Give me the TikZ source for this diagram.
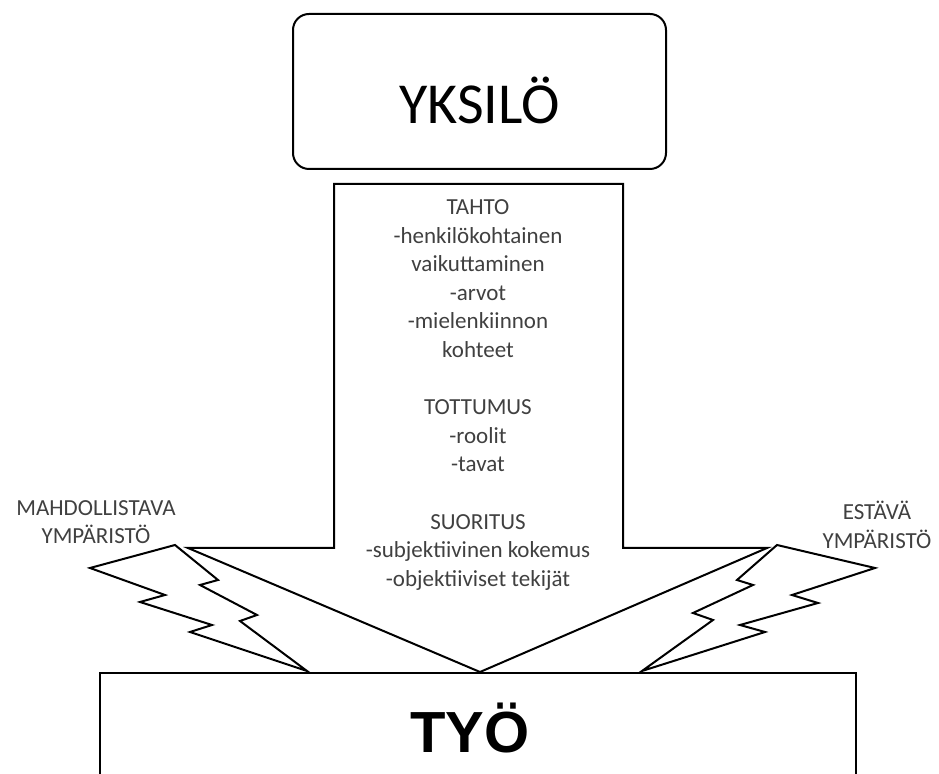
\documentclass[tikz,border=0pt]{standalone}
\usepackage{fontspec}
\setmainfont{Carlito}
\newfontfamily\tyofont{Liberation Sans}

\begin{document}
\begin{tikzpicture}[x=0.5pt,y=-0.5pt,
        viiva/.style={line width=1pt, line join=miter},
        pieni/.style={align=center, text=black!75, font=\fontsize{11.5}{14.3}\selectfont}]
        \useasboundingbox (0,0) rectangle (939,774);
        \node[draw, viiva, rounded corners=8pt, minimum width=186.5pt, minimum height=77.5pt, inner sep=0pt, text height=32pt, text depth=0pt, font=\fontsize{29}{29}\selectfont] (yksilo) at (479.5,91.5) {YKSILÖ};
        \node[draw, viiva, anchor=north, minimum width=378pt, minimum height=80pt] (tyo) at (478,672) {};
        \node[anchor=base, font=\tyofont\bfseries\fontsize{29}{29}\selectfont] (tyoteksti) at (470,753) {TYÖ};
        \draw[viiva] (334,184) -- (623,184) -- (623,548) -- (767,548) -- (480,672) -- (188,548) -- (334,548) -- cycle;
        \draw[viiva] (175,545) -- (90,568) -- (165,595) -- (140,602) -- (212,625) -- (190,632) -- (307,671) -- (240,621) -- (257,615) -- (200,585) -- (218,580) -- cycle;
        \draw[viiva] (777,545) -- (875,568) -- (792,595) -- (818,603) -- (740,625) -- (765,632) -- (642,671) -- (713,620) -- (693,613) -- (753,585) -- (737,580) -- cycle;
        \node[pieni] (kuvaus) at (478,395) {TAHTO\\-henkilökohtainen\\vaikuttaminen\\-arvot\\-mielenkiinnon\\kohteet\\[14.3pt]TOTTUMUS\\-roolit\\-tavat\\[14.3pt]SUORITUS\\-subjektiivinen kokemus\\-objektiiviset tekijät};
        \node[pieni] (mahdollistava) at (96,522) {MAHDOLLISTAVA\\YMPÄRISTÖ};
        \node[pieni] (estava) at (877,525) {ESTÄVÄ\\YMPÄRISTÖ};
    \end{tikzpicture}
\end{document}
